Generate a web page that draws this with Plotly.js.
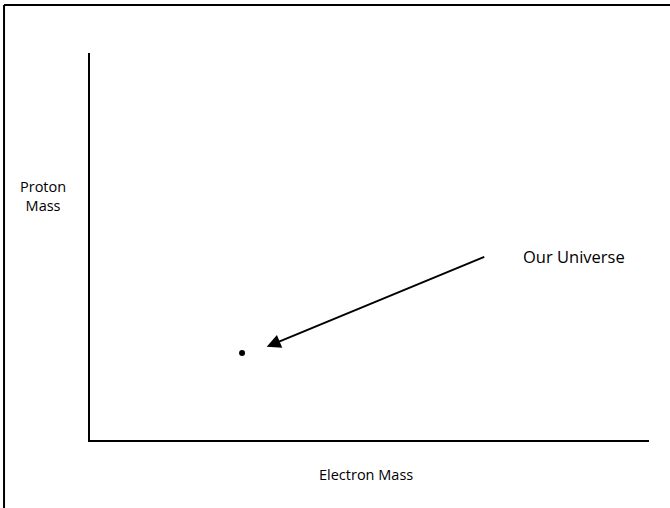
<!DOCTYPE html>
<html>
<head>
<meta charset="utf-8">
<script src="https://cdn.plot.ly/plotly-3.0.1.min.js"></script>
<style>html,body{margin:0;padding:0;background:#fff;}#chart{width:670px;height:508px;}</style>
</head>
<body>
<div id="chart"></div>
<script>
// Data (schematic, arbitrary units)
const pointX = [2.72];
const pointY = [2.25];
const arrowTip = [3.16, 2.41];
const arrowTail = [7.08, 4.75];
const pointLabel = "Our Universe";
const xTitle = "Electron Mass";
const yTitleLines = ["Proton", "Mass"];

const font = {family: "Open Sans, sans-serif", size: 14.5, color: "#000"};
const bigFont = {family: "Open Sans, sans-serif", size: 16.5, color: "#000"};

const data = [{
  x: pointX, y: pointY, type: "scatter", mode: "markers",
  marker: {color: "#000", size: 6}, hoverinfo: "skip", showlegend: false
}];

const layout = {
  width: 670, height: 508,
  margin: {l: 90, r: 21, t: 53, b: 68},
  paper_bgcolor: "#fff", plot_bgcolor: "#fff",
  font: font,
  showlegend: false,
  xaxis: {range: [0, 10], showline: true, linecolor: "#000", linewidth: 2,
          showgrid: false, zeroline: false, showticklabels: false, ticks: ""},
  yaxis: {range: [0, 10], showline: true, linecolor: "#000", linewidth: 2,
          showgrid: false, zeroline: false, showticklabels: false, ticks: ""},
  shapes: [
    {type: "line", xref: "paper", yref: "paper", x0: -0.1538, x1: 1.05, y0: 1.124, y1: 1.124,
     line: {color: "#000", width: 2}},
    {type: "line", xref: "paper", yref: "paper", x0: -0.1538, x1: -0.1538, y0: 1.124, y1: -0.2,
     line: {color: "#000", width: 2}}
  ],
  annotations: [
    {x: arrowTip[0], y: arrowTip[1], xref: "x", yref: "y",
     ax: arrowTail[0], ay: arrowTail[1], axref: "x", ayref: "y",
     showarrow: true, arrowhead: 2, arrowsize: 1.4, arrowwidth: 2, arrowcolor: "#000", text: ""},
    {x: (574 - 90) / 559, y: (440 - 256) / 387, xref: "paper", yref: "paper",
     text: pointLabel, showarrow: false, xanchor: "center", yanchor: "middle", font: bigFont},
    {x: (366 - 90) / 559, y: (440 - 474) / 387, xref: "paper", yref: "paper",
     text: xTitle, showarrow: false, xanchor: "center", yanchor: "middle", font: font},
    {x: (43 - 90) / 559, y: (440 - 196) / 387, xref: "paper", yref: "paper",
     text: yTitleLines.join("<br>"), showarrow: false, xanchor: "center", yanchor: "middle", align: "center", font: font}
  ]
};

Plotly.newPlot("chart", data, layout, {staticPlot: true, displayModeBar: false});
</script>
</body>
</html>
